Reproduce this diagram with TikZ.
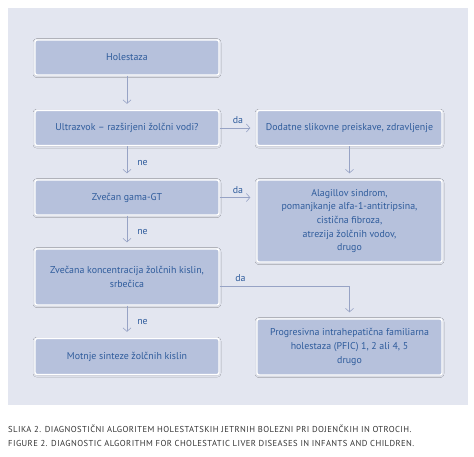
\documentclass[tikz,border=0pt]{standalone}
\usepackage{fontspec}
\setmainfont{PT Sans}
\usetikzlibrary{arrows.meta,positioning,shadows.blur}
\definecolor{panel}{HTML}{E3E6F0}
\definecolor{boxfill}{HTML}{B6C1DC}
\definecolor{boxtext}{HTML}{2F5C9C}
\definecolor{arrowc}{HTML}{97A3C5}
\definecolor{captext}{HTML}{333333}
\begin{document}
\begin{tikzpicture}[x=1pt, y=-1pt,
    box/.style={draw=white, line width=1.4pt, fill=boxfill, rounded corners=2pt,
      text=boxtext, align=center, font=\fontsize{9.9}{13.7}\selectfont,
      blur shadow={shadow blur steps=6, shadow xshift=0pt, shadow yshift=-0.6pt, shadow opacity=18}},
    arr/.style={draw=arrowc, line width=0.6pt, -{Straight Barb[length=3.5pt, width=8pt]}, shorten >=6pt},
    lab/.style={text=boxtext, font=\fontsize{9.9}{11}\selectfont, inner sep=1pt},
    captxt/.style={text=captext, anchor=west, inner sep=0pt,
      font=\fontsize{8.6}{10}\selectfont\addfontfeature{LetterSpace=5}}]
    \useasboundingbox (0,0) rectangle (474,456);
    \fill[panel] (8,8) rectangle (468,405);

    % okvirji
    \node[box, minimum width=184pt, minimum height=35pt] (hol) at (127,57.5) {Holestaza};
    \node[box, minimum width=184pt, minimum height=35pt] (uz) at (127,128) {Ultrazvok -- razširjeni žolčni vodi?};
    \node[box, minimum width=185pt, minimum height=35pt] (dod) at (349.5,128) {Dodatne slikovne preiskave, zdravljenje};
    \node[box, minimum width=184pt, minimum height=35pt] (gam) at (127,197.5) {Zvečan gama-GT};
    \node[box, minimum width=185pt, minimum height=82pt] (ala) at (349.5,221)
      {Alagillov sindrom,\\pomanjkanje alfa-1-antitripsina,\\cistična fibroza,\\atrezija žolčnih vodov,\\drugo};
    \node[box, minimum width=184pt, minimum height=56pt] (kis) at (127,277) {Zvečana koncentracija žolčnih kislin,\\srbečica};
    \node[box, minimum width=184pt, minimum height=36pt] (mot) at (127,356.5) {Motnje sinteze žolčnih kislin};
    \node[box, minimum width=185pt, minimum height=56pt] (pfic) at (349.5,347)
      {Progresivna intrahepatična familiarna\\holestaza (PFIC) 1, 2 ali 4, 5\\drugo};

    % puščice
    \draw[arr] (hol) -- (uz);
    \draw[arr] (uz) -- node[lab, above=3pt] (da1) {da} (dod);
    \draw[arr] (dod) -- (ala);
    \draw[arr] (uz) -- node[lab, right=9pt] (ne1) {ne} (gam);
    \draw[arr] (gam.east) -- node[lab, above=3pt] (da2) {da} (gam.east -| ala.west);
    \draw[arr] (gam) -- node[lab, right=9pt] (ne2) {ne} (kis);
    \draw[arr] ([yshift=-9pt]kis.east) -| node[lab, above=3pt, pos=0.08] (da3) {da} (pfic.north);
    \draw[arr] (kis) -- node[lab, right=9pt] (ne3) {ne} (mot);

    % napis
    \node[captxt] (cap1) at (8,429) {SLIKA 2. DIAGNOSTIČNI ALGORITEM HOLESTATSKIH JETRNIH BOLEZNI PRI DOJENČKIH IN OTROCIH.};
    \node[captxt] (cap2) at (8,443) {FIGURE 2. DIAGNOSTIC ALGORITHM FOR CHOLESTATIC LIVER DISEASES IN INFANTS AND CHILDREN.};
\end{tikzpicture}
\end{document}
